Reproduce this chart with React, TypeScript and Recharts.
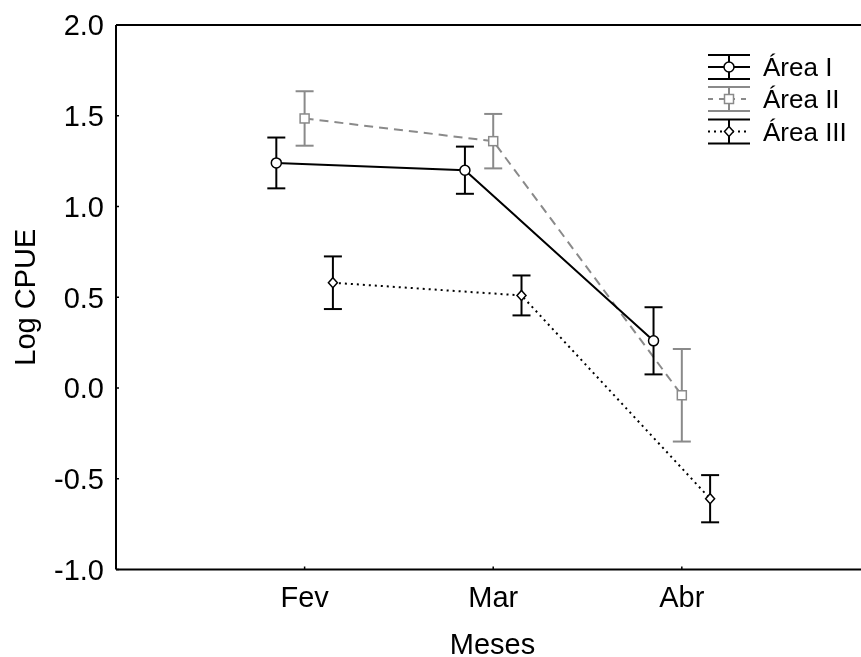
import React from 'react';
import { ComposedChart, Line, XAxis, YAxis, ErrorBar, ReferenceLine, Legend, Label } from 'recharts';

const FONT = '"Liberation Sans", Arial, Helvetica, sans-serif';

const months = ['Fev', 'Mar', 'Abr'];
const monthPositions = [1, 2, 3];
const yTicks = [-1, -0.5, 0, 0.5, 1, 1.5, 2];

const areaI = [1.24, 1.2, 0.26];
const areaIErr = [0.14, 0.13, 0.185];
const areaII = [1.485, 1.36, -0.04];
const areaIIErr = [0.15, 0.15, 0.255];
const areaIII = [0.58, 0.51, -0.61];
const areaIIIErr = [0.145, 0.11, 0.13];

const seriesNames = ['Área I', 'Área II', 'Área III'];
const seriesOffsets = [-0.15, 0, 0.15];

const GRAY = '#8a8a8a';

const build = (values: number[], errs: number[], offset: number) =>
  months.map((m, i) => ({ month: m, x: monthPositions[i] + offset, y: values[i], err: errs[i] }));

const dataI = build(areaI, areaIErr, seriesOffsets[0]);
const dataII = build(areaII, areaIIErr, seriesOffsets[1]);
const dataIII = build(areaIII, areaIIIErr, seriesOffsets[2]);

const styles = [
  { color: '#000', dash: undefined as string | undefined, legendDash: undefined as string | undefined, marker: 'circle' },
  { color: GRAY, dash: '9 6', legendDash: '5 6', marker: 'square' },
  { color: '#000', dash: '2 4', legendDash: '2 4', marker: 'diamond' },
];

const Marker = ({ kind, cx, cy, color }: { kind: string; cx: number; cy: number; color: string }) => {
  if (kind === 'circle') {
    return <circle cx={cx} cy={cy} r={5} fill="#fff" stroke={color} strokeWidth={1.5} />;
  }
  if (kind === 'square') {
    return <rect x={cx - 4.5} y={cy - 4.5} width={9} height={9} fill="#fff" stroke={color} strokeWidth={1.5} />;
  }
  return (
    <polygon
      points={`${cx},${cy - 5} ${cx + 4.5},${cy} ${cx},${cy + 5} ${cx - 4.5},${cy}`}
      fill="#fff"
      stroke={color}
      strokeWidth={1.5}
    />
  );
};

const makeDot = (idx: number) => (props: any) => {
  const { cx, cy, index } = props;
  if (cx == null || cy == null) return <g key={`n${idx}-${index}`} />;
  return (
    <g key={`d${idx}-${index}`}>
      <Marker kind={styles[idx].marker} cx={cx} cy={cy} color={styles[idx].color} />
    </g>
  );
};

const renderLegend = () => {
  const rowY = [19, 51, 83.5];
  return (
    <svg width={160} height={110} style={{ overflow: 'visible' }}>
      {seriesNames.map((name, i) => {
        const s = styles[i];
        const cy = rowY[i];
        return (
          <g key={name}>
            <line x1={8} x2={50} y1={cy - 12} y2={cy - 12} stroke={s.color} strokeWidth={2} />
            <line x1={8} x2={50} y1={cy + 12} y2={cy + 12} stroke={s.color} strokeWidth={2} />
            <line x1={29} x2={29} y1={cy - 12} y2={cy + 12} stroke={s.color} strokeWidth={2} />
            <line x1={8} x2={50} y1={cy} y2={cy} stroke={s.color} strokeWidth={2} strokeDasharray={s.legendDash} />
            <Marker kind={s.marker} cx={29} cy={cy} color={s.color} />
            <text x={63} y={cy + 9} fontSize={26} fontFamily={FONT} fill="#000">
              {name}
            </text>
          </g>
        );
      })}
    </svg>
  );
};

const tickStyle = { fill: '#000', fontSize: 29, fontFamily: FONT };

export default function App() {
  return (
    <div style={{ position: 'fixed', left: 8, top: 8, width: 853, height: 649 }}>
      <ComposedChart width={853} height={649} margin={{ top: 17, right: 0, bottom: 0, left: 0 }}>
        <XAxis
          type="number"
          dataKey="x"
          domain={[0, 3.95]}
          ticks={monthPositions}
          interval={0}
          allowDataOverflow
          tickFormatter={(v: number) => months[monthPositions.indexOf(v)] ?? ''}
          height={87.5}
          axisLine={{ stroke: '#000', strokeWidth: 2 }}
          tickLine={{ stroke: '#000', strokeWidth: 1.5 }}
          tickSize={-3}
          tickMargin={19.5}
          tick={tickStyle}
        >
          <Label
            value="Meses"
            position="insideBottom"
            offset={3}
            dx={4}
            style={{ fontSize: 29, fill: '#000', fontFamily: FONT }}
          />
        </XAxis>
        <YAxis
          type="number"
          domain={[-1, 2]}
          ticks={yTicks}
          interval={0}
          allowDataOverflow
          width={108}
          tickFormatter={(v: number) => v.toFixed(1)}
          axisLine={{ stroke: '#000', strokeWidth: 2 }}
          tickLine={{ stroke: '#000', strokeWidth: 1.5 }}
          tickSize={-3}
          tickMargin={15}
          tick={tickStyle}
        >
          <Label
            value="Log CPUE"
            angle={-90}
            position="insideLeft"
            offset={17}
            style={{ fontSize: 29, fill: '#000', fontFamily: FONT, textAnchor: 'middle' }}
          />
        </YAxis>
        <ReferenceLine y={2} stroke="#000" strokeWidth={2} />
        <Legend
          layout="horizontal"
          verticalAlign="middle"
          align="center"
          wrapperStyle={{ position: 'absolute', left: 692, top: 40, width: 160, height: 110 }}
          content={renderLegend}
        />
        <Line
          data={dataII}
          dataKey="y"
          name={seriesNames[1]}
          stroke={styles[1].color}
          strokeWidth={2}
          strokeDasharray={styles[1].dash}
          dot={makeDot(1)}
          activeDot={false}
          isAnimationActive={false}
        >
          <ErrorBar dataKey="err" direction="y" width={9} stroke={GRAY} strokeWidth={2} isAnimationActive={false} />
        </Line>
        <Line
          data={dataIII}
          dataKey="y"
          name={seriesNames[2]}
          stroke={styles[2].color}
          strokeWidth={2}
          strokeDasharray={styles[2].dash}
          dot={makeDot(2)}
          activeDot={false}
          isAnimationActive={false}
        >
          <ErrorBar dataKey="err" direction="y" width={9} stroke="#000" strokeWidth={2} isAnimationActive={false} />
        </Line>
        <Line
          data={dataI}
          dataKey="y"
          name={seriesNames[0]}
          stroke={styles[0].color}
          strokeWidth={2}
          dot={makeDot(0)}
          activeDot={false}
          isAnimationActive={false}
        >
          <ErrorBar dataKey="err" direction="y" width={9} stroke="#000" strokeWidth={2} isAnimationActive={false} />
        </Line>
      </ComposedChart>
    </div>
  );
}
